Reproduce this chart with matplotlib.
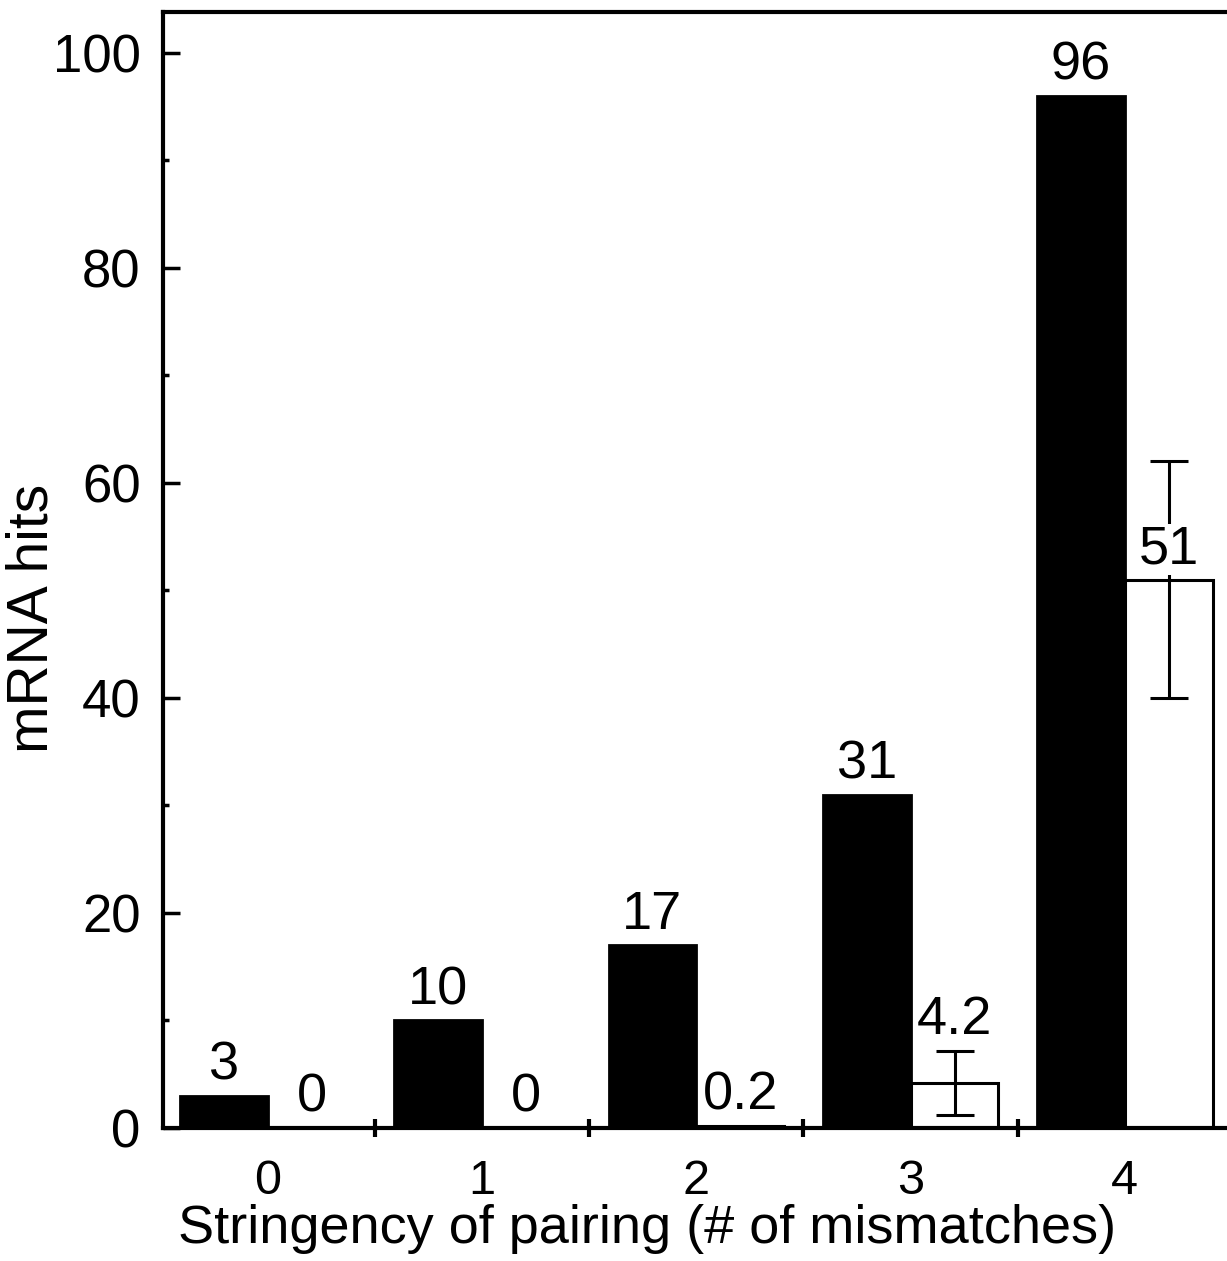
import numpy as np
import matplotlib
matplotlib.use('Agg')
import matplotlib.pyplot as plt
from matplotlib.ticker import MultipleLocator

plt.rcParams['font.family'] = ['Liberation Sans', 'DejaVu Sans']

# data
groups = ['0', '1', '2', '3', '4']
black_vals = [3, 10, 17, 31, 96]
white_vals = [0, 0, 0.2, 4.2, 51]
white_err = [0, 0, 0, 3, 11]
black_labels = ['3', '10', '17', '31', '96']
white_labels = ['0', '0', '0.2', '4.2', '51']

fig = plt.figure(figsize=(12.27, 12.61), dpi=100)
ax = fig.add_axes([0.1328, 0.1055, 0.8672, 0.885])

x = np.arange(len(groups))
w = 0.41
ax.bar(x - w/2, black_vals, w, color='black', edgecolor='black', lw=2)
ax.bar(x + w/2, white_vals, w, color='white', edgecolor='black', lw=2.2)

# error bars only where there is one
has_err = np.array(white_err) > 0
ax.errorbar((x + w/2)[has_err], np.array(white_vals)[has_err],
            yerr=np.array(white_err)[has_err], fmt='none', ecolor='black',
            elinewidth=2.2, capsize=14, capthick=2.2, zorder=3)

for i in range(len(groups)):
    ax.text(x[i] - w/2, black_vals[i] + 0.5, black_labels[i], ha='center',
            va='bottom', fontsize=39)
    if white_err[i] > 0 and white_vals[i] < 20:
        ty = white_vals[i] + white_err[i] + 0.5
    else:
        ty = white_vals[i] + 0.5
    ax.text(x[i] + w/2, ty, white_labels[i], ha='center', va='bottom',
            fontsize=39, zorder=4,
            bbox=dict(facecolor='white', edgecolor='none', pad=0.5))

ax.set_xlim(-0.49, 4.477)
ax.set_ylim(0, 103.8)

ax.set_xticks(x)
ax.set_xticklabels(groups, fontsize=35)
ax.tick_params(axis='x', which='major', length=0, pad=22)
ax.set_xticks(x[:-1] + 0.5, minor=True)
ax.tick_params(axis='x', which='minor', direction='inout', length=13, width=3)

ax.yaxis.set_major_locator(MultipleLocator(20))
ax.yaxis.set_minor_locator(MultipleLocator(10))
ax.tick_params(axis='y', which='major', direction='in', length=12, width=2.5,
               labelsize=38, pad=16)
ax.tick_params(axis='y', which='minor', direction='in', length=4, width=2.5)

for s in ['left', 'bottom', 'top']:
    ax.spines[s].set_linewidth(3)
ax.spines['right'].set_visible(False)

ax.set_ylabel('mRNA hits', fontsize=41)
ax.yaxis.set_label_coords(-0.097, 0.457)
ax.set_xlabel('Stringency of pairing (# of mismatches)', fontsize=39)
ax.xaxis.set_label_coords(0.455, -0.068)

fig.savefig('out.png', dpi=100)
